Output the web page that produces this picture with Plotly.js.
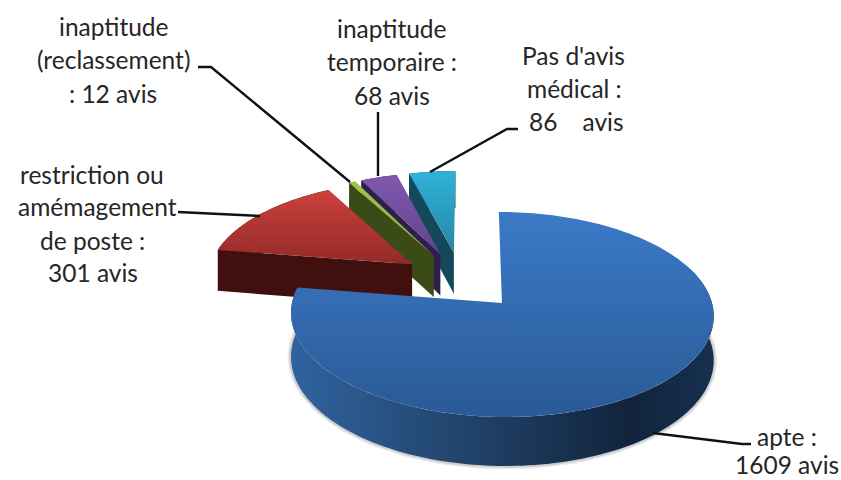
<!DOCTYPE html>
<html><head><meta charset="utf-8">
<script src="https://cdn.plot.ly/plotly-3.0.1.min.js"></script>
<style>html,body{margin:0;padding:0;background:#fff}</style></head>
<body><div id="chart" style="width:841px;height:480px"></div>
<script>
// Data
const categories = ["apte", "restriction ou amémagement de poste", "inaptitude (reclassement)", "inaptitude temporaire", "Pas d'avis médical"];
const values = [1609, 301, 12, 68, 86];
const labelLines = [
  ["apte :", "1609 avis"],
  ["restriction ou", "amémagement", "de poste :", "301 avis"],
  ["inaptitude", "(reclassement)", ": 12 avis"],
  ["inaptitude", "temporaire :", "68 avis"],
  ["Pas d'avis", "médical :", "86    avis"]
];
// Styles
const topShades = [["#3b7ac8","#2a5a96"],["#cc403c","#932a28"],["#a0c548","#8fb03e"],["#8059ac","#63428e"],["#2fb2d8","#2686a2"]];
const wallShades = [null,"#40100e","#3b4b18","#2e1f4c","#14485a"];
const blueWall = [[0,"#30639f"],[0.25,"#27507f"],[0.5,"#1e3c60"],[0.8,"#11243c"],[1,"#16304f"]];
const explode = 0.30;
// Projection of the pie disc to the plot
const view = {cx:502, cy:303, R:210, Ry:101.2, k:0.112, D:43.5, shear:3.5, c0:[-0.195,-0.228]};
function project(u,v,z){const s=1/(1-view.k*v);return [view.cx+(view.R*u+view.shear*v)*s, view.cy+(view.Ry*v+view.D*z)*s];}
const total = values.reduce((a,b)=>a+b,0);
const rad = d=>d*Math.PI/180;
let angle=0; const slices=values.map((val,i)=>{const a0=angle,a1=angle+val/total*360;angle=a1;
  const m=rad((a0+a1)/2);
  return {i,a0,a1,ou:view.c0[0]+explode*Math.sin(m),ov:view.c0[1]-explode*Math.cos(m)};});
function rim(s,z,from,to){const n=Math.max(3,Math.ceil(Math.abs(to-from)/1.5)),p=[];
  for(let j=0;j<=n;j++){const t=rad(from+(to-from)*j/n);p.push(project(s.ou+Math.sin(t),s.ov-Math.cos(t),z));}return p;}
function poly(pts,extra){const x=pts.map(p=>p[0]),y=pts.map(p=>p[1]);x.push(x[0]);y.push(y[0]);
  return Object.assign({type:"scatter",mode:"none",x,y,fill:"toself",hoverinfo:"skip",showlegend:false},extra);}
const traces=[];
function gradV(c,ys){return {fillgradient:{type:"vertical",colorscale:[[0,c[0]],[1,c[1]]],start:Math.min(...ys),stop:Math.max(...ys)}};}
// painter's order: far slices first, the large near slice last
[4,3,2,1,0].forEach(i=>{const s=slices[i];
  const ap0=project(s.ou,s.ov,0),ap1=project(s.ou,s.ov,1);
  const top0=rim(s,0,s.a0,s.a1),bot=rim(s,1,s.a0,s.a1);
  if(i===0){
    const visible=rim(s,0,70,279);
    const lower=rim(s,1,70,279);
    // soft shadow along the base of the large slice
    [[7,0.12],[4,0.2]].forEach(sh=>{
      traces.push({type:"scatter",mode:"lines",x:lower.map(p=>p[0]),y:lower.map(p=>p[1]),line:{color:"rgba(90,90,90,"+sh[1]+")",width:sh[0]},hoverinfo:"skip",showlegend:false});
    });
    traces.push(poly(visible.concat(lower.slice().reverse()),{fillgradient:{type:"horizontal",colorscale:blueWall,start:291,stop:714}}));
  } else {
    const st0=top0[0],st1=bot[0];
    traces.push(poly([ap0,st0,st1,ap1],{fillcolor:wallShades[i]}));
    traces.push(poly(top0.concat(bot.slice().reverse()),{fillcolor:wallShades[i]}));
  }
  const face=[ap0].concat(top0);
  traces.push(poly(face,gradV(topShades[i],face.map(p=>p[1]))));
});
// Leader lines
const leaders=[
  [[653,433],[742,444],[751,444]],
  [[178,212],[250,215],[260,216]],
  [[198,67],[211,67],[350,182]],
  [[378,112],[378,176]],
  [[430,172],[507,129],[518,129]]
];
leaders.forEach(l=>traces.push({type:"scatter",mode:"lines",x:l.map(p=>p[0]),y:l.map(p=>p[1]),line:{color:"#111",width:2.4},hoverinfo:"skip",showlegend:false}));
// Label anchor positions
const labelPos=[
  [[787,436],[787,464]],
  [[92,174],[97,206],[92,240],[93,272]],
  [[114,26],[113,59],[113,93]],
  [[392,28],[392,61],[392,95]],
  [[573,55],[574,88],[576,121]]
];
const annotations=[];
labelLines.forEach((lines,i)=>lines.forEach((t,j)=>annotations.push({x:labelPos[i][j][0],y:labelPos[i][j][1],text:t,showarrow:false,xanchor:"center",yanchor:"middle",font:{family:"Lato, 'Open Sans', sans-serif",size:24.5,color:"#262626"}})));
Plotly.newPlot("chart",traces,{
  width:841,height:480,margin:{l:0,r:0,t:0,b:0},paper_bgcolor:"#fff",plot_bgcolor:"#fff",showlegend:false,
  xaxis:{range:[0,841],visible:false,fixedrange:true},
  yaxis:{range:[480,0],visible:false,fixedrange:true},
  annotations
},{displayModeBar:false,staticPlot:true});
</script></body></html>
